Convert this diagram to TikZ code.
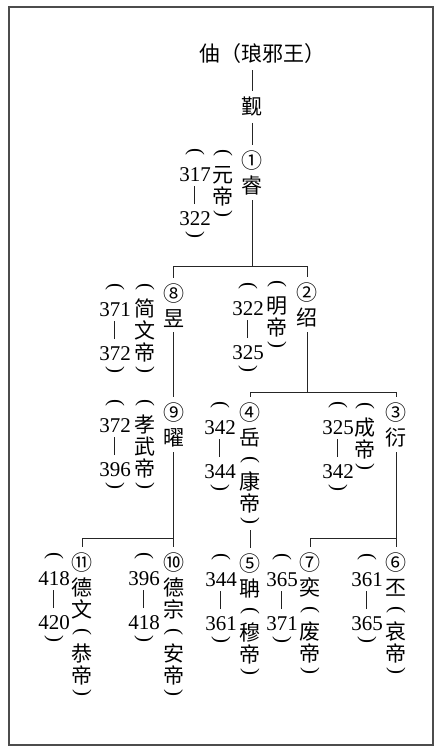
\documentclass[tikz,border=0pt]{standalone}
\usepackage{graphicx}
\usepackage{fontspec}
\setmainfont{Liberation Serif}
\newfontfamily\cjkfont{Noto Sans CJK SC}
\newfontfamily\numfont{Liberation Serif}
\usetikzlibrary{calc}

\newcommand\ystrut{\rule{0pt}{18pt}}
\newcommand\opn{\raisebox{2pt}{\rotatebox[origin=c]{-90}{\numfont(}}}
\newcommand\cls{\raisebox{7pt}{\rotatebox[origin=c]{-90}{\numfont)}}}
\newcommand\yrs[2]{\ystrut\opn\\{\numfont #1}\\︱\\{\numfont #2}\\\cls}

\begin{document}
\begin{tikzpicture}[x=1pt, y=-1pt,
  txt/.style={font=\cjkfont\fontsize{21}{22}\selectfont},
  stack/.style={txt, anchor=north, align=center, inner sep=0pt},
  person/.style={stack, inner ysep=5pt},
  reign/.style={stack},
  years/.style={stack},
  link/.style={line width=0.8pt, black!85},
  frame/.style={line width=1.2pt, black!70},
]
\useasboundingbox (0,0) rectangle (440,753);
\draw[frame] (9,7) rectangle (433,745);

% ancestors
\node[txt, inner ysep=6pt] (zhou) at (262,54) {伷（琅邪王）};
\node[txt, inner ysep=6pt] (guan) at (252,107) {觐};

% generation 1
\node[person] (p1) at (252,145) {\ystrut①\\[3pt]睿};
\node[reign]  (t1) at (223,142) {\ystrut\opn\\元\\帝\\\cls};
\node[years]  (d1) at (195,141) {\yrs{317}{322}};

% generation 2
\node[person] (p8) at (173.5,278) {\ystrut⑧\\[3pt]昱};
\node[reign]  (t8) at (145,276) {\ystrut\opn\\简\\文\\帝\\\cls};
\node[years]  (d8) at (115,276) {\yrs{371}{372}};
\node[person] (p2) at (307,277) {\ystrut②\\[3pt]绍};
\node[reign]  (t2) at (277,273) {\ystrut\opn\\明\\帝\\\cls};
\node[years]  (d2) at (248,275) {\yrs{322}{325}};

% generation 3
\node[person] (p9) at (173.5,397) {\ystrut⑨\\[3pt]曜};
\node[reign]  (t9) at (145,392) {\ystrut\opn\\孝\\武\\帝\\\cls};
\node[years]  (d9) at (115,392) {\yrs{372}{396}};
\node[person] (p4) at (250,397) {\ystrut④\\[3pt]岳\\\opn\\康\\帝\\\cls};
\node[years]  (d4) at (220,394) {\yrs{342}{344}};
\node[person] (p3) at (396,397) {\ystrut③\\[3pt]衍};
\node[reign]  (t3) at (365,395) {\ystrut\opn\\成\\帝\\\cls};
\node[years]  (d3) at (338,394) {\yrs{325}{342}};

% generation 4
\node[person] (p11) at (82,547) {\ystrut⑪\\[3pt]德\\文\\\opn\\恭\\帝\\\cls};
\node[years]  (d11) at (54,545) {\yrs{418}{420}};
\node[person] (p10) at (173.5,547) {\ystrut⑩\\[3pt]德\\宗\\\opn\\安\\帝\\\cls};
\node[years]  (d10) at (144,545) {\yrs{396}{418}};
\node[person] (p5) at (250,548) {\ystrut⑤\\[3pt]聃\\\opn\\穆\\帝\\\cls};
\node[years]  (d5) at (221,546) {\yrs{344}{361}};
\node[person] (p7) at (310,547) {\ystrut⑦\\[3pt]奕\\\opn\\废\\帝\\\cls};
\node[years]  (d7) at (282,546) {\yrs{365}{371}};
\node[person] (p6) at (396,547) {\ystrut⑥\\[3pt]丕\\\opn\\哀\\帝\\\cls};
\node[years]  (d6) at (367,546) {\yrs{361}{365}};

% branch heights
\coordinate (barA) at (0,266);
\coordinate (barB) at (0,392);
\coordinate (barC) at (0,538);

\draw[link] (zhou.south -| guan.north) -- (guan.north);
\draw[link] (guan.south) -- (p1.north);
\draw[link] (p1.south) -- (p1.south |- barA) -| (p8.north);
\draw[link] (p1.south |- barA) -| (p2.north);
\draw[link] (p8.south) -- (p9.north);
\draw[link] (p2.south) -- (p2.south |- barB) -| (p4.north);
\draw[link] (p2.south |- barB) -| (p3.north);
\draw[link] ([yshift=8pt]p4.south) -- (p5.north);
\draw[link] (p3.south) -- (p6.north);
\draw[link] (p3.south |- barC) -| (p7.north);
\draw[link] (p9.south) -- (p10.north);
\draw[link] (p9.south |- barC) -| (p11.north);

\end{tikzpicture}
\end{document}
